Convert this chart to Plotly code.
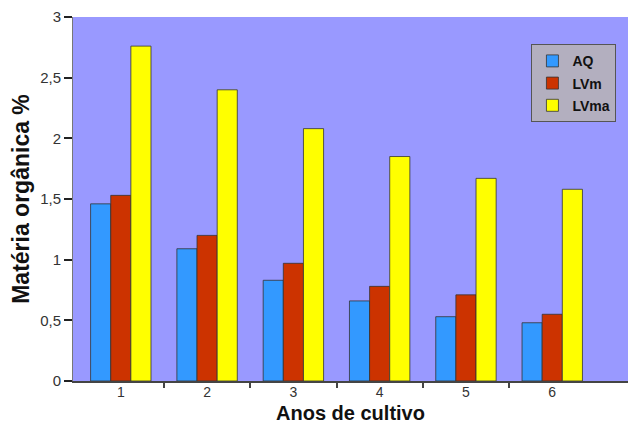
import plotly.graph_objects as go

years = [1, 2, 3, 4, 5, 6]
mid_ticks = [1.5, 2.5, 3.5, 4.5, 5.5]
series_names = ["AQ", "LVm", "LVma"]
aq = [1.46, 1.09, 0.83, 0.66, 0.53, 0.48]
lvm = [1.53, 1.20, 0.97, 0.78, 0.71, 0.55]
lvma = [2.76, 2.40, 2.08, 1.85, 1.67, 1.58]
colors = ["#3399FF", "#CC3300", "#FFFF00"]
y_tickvals = [0, 0.5, 1, 1.5, 2, 2.5, 3]
y_ticktext = ["0", "0,5", "1", "1,5", "2", "2,5", "3"]

FONT = "Liberation Sans, Arial, sans-serif"
X_RANGE = [0.446, 6.878]

fig = go.Figure()
for name, vals, col in zip(series_names, [aq, lvm, lvma], colors):
    fig.add_trace(go.Bar(
        x=years, y=vals, name=name, legendgroup=name,
        marker=dict(color=col, line=dict(color="#333333", width=0.8)),
    ))

# The page body has an 8px margin, so the figure is sized to fit the window.
fig.update_layout(
    width=621, height=416,
    margin=dict(l=65, r=1, t=9, b=43, autoexpand=False),
    paper_bgcolor="white",
    plot_bgcolor="#9999FF",
    barmode="group", bargap=0.3, bargroupgap=0,
    font=dict(family=FONT, color="#222222"),
    legend=dict(
        x=0.826, y=0.925, xanchor="left", yanchor="top",
        bgcolor="#B3AFBF", bordercolor="#555555", borderwidth=1,
        font=dict(size=14, color="#111111", family=FONT, weight="bold"),
        traceorder="grouped", tracegroupgap=1,
        itemwidth=30,
    ),
    showlegend=True,
    xaxis=dict(
        range=X_RANGE,
        tickvals=years, ticktext=[str(y) for y in years],
        ticks="", tickfont=dict(size=14, color="#333333"), ticklabelstandoff=-3,
        showgrid=False, zeroline=False, automargin=False,
        showline=True, linecolor="#444444", linewidth=1.5,
        minor=dict(tickvals=mid_ticks, ticks="outside", ticklen=5,
                   tickcolor="#444444", tickwidth=1.5, showgrid=False),
        title=dict(text="<b>Anos de cultivo</b>", font=dict(size=20, color="#111111"), standoff=7),
    ),
    yaxis=dict(
        range=[0, 3],
        tickmode="array", tickvals=y_tickvals, ticktext=y_ticktext,
        ticks="outside", ticklen=8, tickcolor="#222222", tickwidth=2,
        tickfont=dict(size=15, color="#333333"),
        ticklabeloverflow="allow",
        showgrid=False, zeroline=False, automargin=False,
        showline=True, linecolor="#777777", linewidth=1,
        title=dict(text="<b>Matéria orgânica %</b>", font=dict(size=23, color="#111111"), standoff=4),
    ),
)

fig.write_html("out.html")
